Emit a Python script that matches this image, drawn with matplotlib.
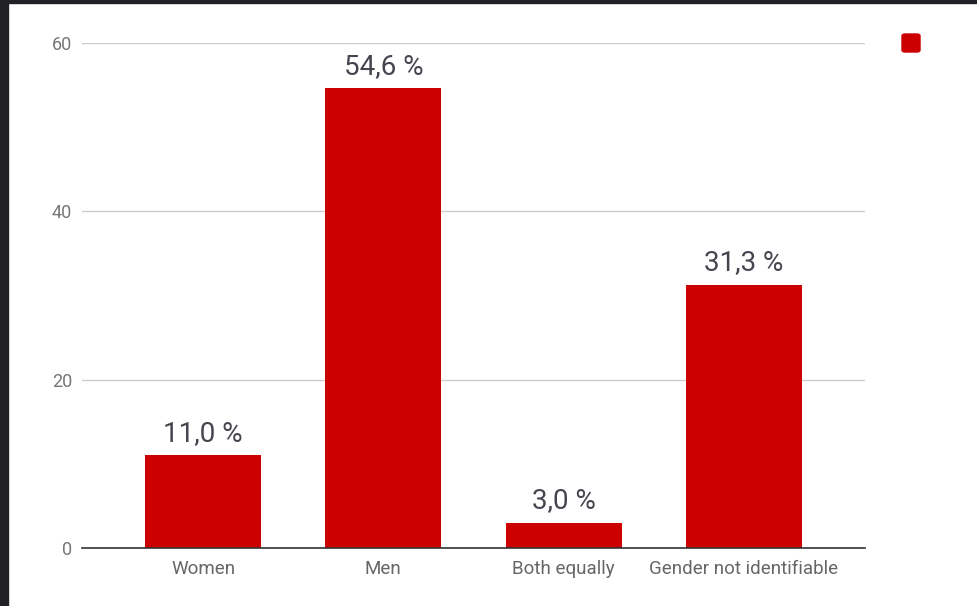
import matplotlib.pyplot as plt
from matplotlib.patches import Rectangle, FancyBboxPatch

# data
categories = ['Women', 'Men', 'Both equally', 'Gender not identifiable']
shares = [11.0, 54.6, 3.0, 31.3]
y_ticks = [0, 20, 40, 60]

bar_color = '#cc0000'
plt.rcParams['font.family'] = ['Roboto', 'DejaVu Sans']

fig = plt.figure(figsize=(9.78, 6.06), dpi=100)
ax = fig.add_axes([82 / 978, 58 / 606, 783 / 978, 505 / 606])

x = range(len(categories))
bars = ax.bar(x, shares, width=0.643, color=bar_color, zorder=3)

# value labels with comma decimals
for rect, v in zip(bars, shares):
    ax.annotate(f"{v:.1f} %".replace('.', ','),
                (rect.get_x() + rect.get_width() / 2, rect.get_height()),
                xytext=(0, 6), textcoords='offset points',
                ha='center', va='bottom', fontsize=20, color='#45454f')

ax.set_xlim(-0.671, 3.671)
ax.set_ylim(0, 60)
ax.set_yticks(y_ticks)
ax.set_xticks(list(x))
ax.set_xticklabels(categories)
ax.tick_params(axis='y', length=0, pad=7, labelsize=13, labelcolor='#777777')
ax.tick_params(axis='x', length=0, pad=9, labelsize=13.5, labelcolor='#666666')

ax.grid(axis='y', color='#cccccc', linewidth=1, zorder=0)
for s in ['top', 'right', 'left']:
    ax.spines[s].set_visible(False)
ax.spines['bottom'].set_color('#333333')
ax.spines['bottom'].set_linewidth(1.2)
ax.spines['bottom'].set_zorder(4)

# legend marker without text
fig.patches.append(FancyBboxPatch((902 / 978, (606 - 52) / 606), 18 / 978, 18 / 606,
                                  boxstyle='round,pad=0,rounding_size=0.003',
                                  transform=fig.transFigure, color=bar_color))

# dark screenshot frame on left and top
fig.patches.append(Rectangle((0, 0), 8 / 978, 1, transform=fig.transFigure, color='#222226'))
fig.patches.append(Rectangle((0, 1 - 3 / 606), 1, 3 / 606, transform=fig.transFigure, color='#222226'))

fig.savefig('out.png', dpi=100)
